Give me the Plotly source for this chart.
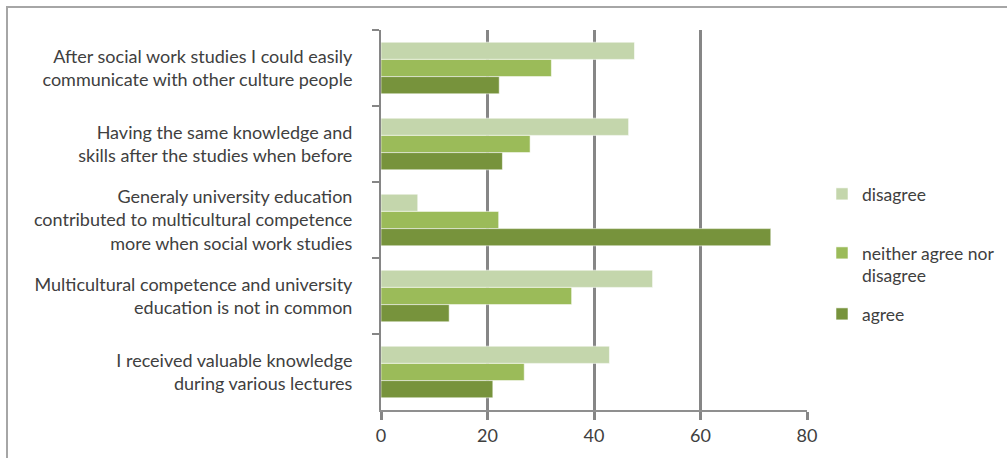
import plotly.graph_objects as go

# Survey statements (top to bottom) and response shares per answer
statements = [
    "After social work studies I could easily<br>communicate with other culture people",
    "Having the same knowledge and<br>skills after the studies when before",
    "Generaly university education<br>contributed to multicultural competence<br>more when social work studies",
    "Multicultural competence and university<br>education is not in common",
    "I received valuable knowledge<br>during various lectures",
]
disagree = [47.6, 46.5, 6.9, 51.0, 42.9]
neither = [32.0, 28.0, 22.1, 35.8, 26.9]
agree = [22.2, 22.8, 73.2, 12.8, 21.0]
x_ticks = [0, 20, 40, 60, 80]

FONT = "Lato"
TEXT = "#404040"
AXIS = "#868686"
EDGE = "rgba(255,255,255,0.55)"

series = [
    ("disagree", disagree, "#c4d6ac", "legend"),
    ("neither agree nor<br>disagree", neither, "#9bbb59", "legend2"),
    ("agree", agree, "#77933c", "legend3"),
]

fig = go.Figure()
for name, vals, color, leg in series:
    fig.add_trace(go.Bar(
        y=statements, x=vals, name=name, orientation="h",
        marker=dict(color=color, line=dict(color=EDGE, width=1)),
        legend=leg,
    ))

# Plot area: x 381..807 px, y 30..410 px
L, R, T, B = 381, 200, 30, 48
W, H = 1007, 458
pw, ph = W - L - R, H - T - B


def px_x(p):
    return (p - L) / pw


def px_y(p):
    return (H - B - p) / ph


def cx(p):
    return p / W


def cy(p):
    return 1 - p / H


legend_font = dict(family=FONT, size=17.5, color=TEXT)
common = dict(font=legend_font, bgcolor="rgba(0,0,0,0)", borderwidth=0,
              xref="container", yref="container",
              xanchor="left", valign="top", itemwidth=30)

fig.update_layout(
    width=W, height=H,
    margin=dict(l=L, r=R, t=T, b=B, autoexpand=False),
    paper_bgcolor="white", plot_bgcolor="white",
    barmode="group", bargap=0.32, bargroupgap=0,
    font=dict(family=FONT, size=18, color=TEXT),
    showlegend=True,
    legend=dict(x=cx(822), y=cy(194), yanchor="middle", **common),
    legend2=dict(x=cx(822), y=cy(235), yanchor="top", **common),
    legend3=dict(x=cx(822), y=cy(314), yanchor="middle", **common),
    xaxis=dict(
        range=[0, 80], tickvals=x_ticks, ticktext=[str(v) for v in x_ticks],
        showgrid=True, gridcolor=AXIS, gridwidth=3, zeroline=False,
        showline=True, linecolor="#8f8f8f", linewidth=2,
        ticks="outside", ticklen=8, tickwidth=3, tickcolor=AXIS,
        tickfont=dict(family=FONT, size=18, color=TEXT),
        automargin=False,
    ),
    yaxis=dict(
        autorange="reversed", type="category",
        showgrid=False, zeroline=False,
        showline=True, linecolor=AXIS, linewidth=2,
        ticks="outside", tickson="boundaries", ticklen=7, tickwidth=2,
        tickcolor=AXIS, ticklabelstandoff=23,
        tickfont=dict(family=FONT, size=18, color=TEXT),
        automargin=False,
    ),
    shapes=[dict(
        type="rect", xref="paper", yref="paper",
        x0=px_x(7), x1=px_x(1012), y0=px_y(7), y1=px_y(465),
        line=dict(color="#a6a6a6", width=2), fillcolor="rgba(0,0,0,0)",
        layer="below",
    )],
)

fig.write_html("out.html")
